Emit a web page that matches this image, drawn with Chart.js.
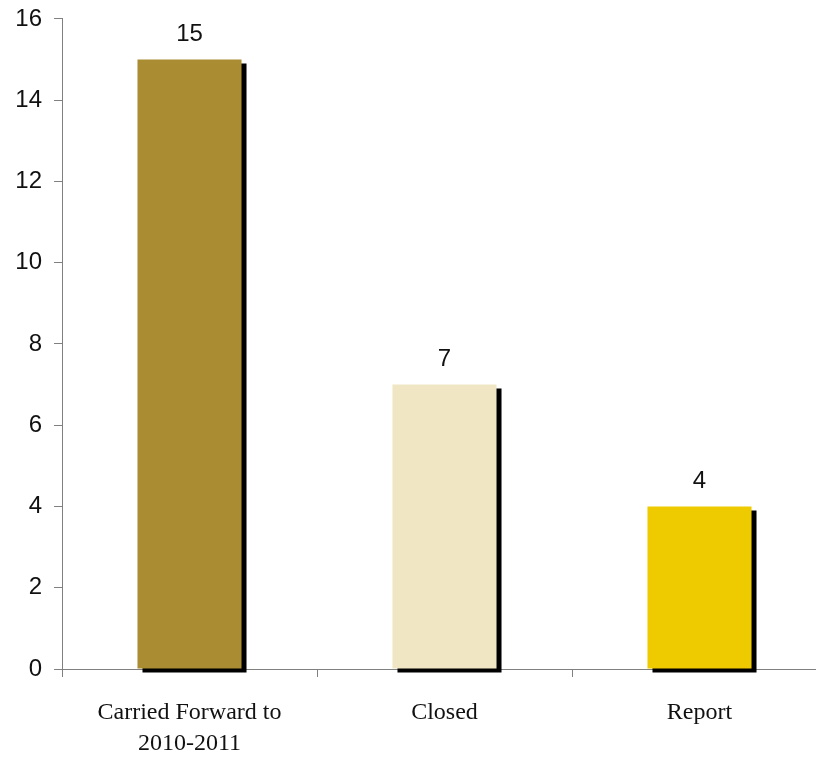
<!DOCTYPE html>
<html>
<head>
<meta charset="utf-8">
<script src="https://cdn.jsdelivr.net/npm/chart.js@4"></script>
<style>
    html, body { margin: 0; padding: 0; background: #fff; overflow: hidden; }
    #wrap { width: 816px; height: 759px; overflow: hidden; }
    #wrap div { width: 840px; height: 759px; }
</style>
</head>
<body>
<div id="wrap"><div><canvas id="chart"></canvas></div></div>
<script>
    const categories = [['Carried Forward to', '2010-2011'], 'Closed', 'Report']
    const counts = [15, 7, 4]
    const barColors = ['#AA8C32', '#F0E6C3', '#EECB00']
    const yTicks = [0, 2, 4, 6, 8, 10, 12, 14, 16]

    const axisGray = '#808080'

    // black drop shadow behind every bar
    const barShadow = {
        id: 'barShadow',
        beforeDatasetDraw(chart) {
            const ctx = chart.ctx
            ctx.save()
            ctx.shadowColor = '#000'
            ctx.shadowBlur = 0
            ctx.shadowOffsetX = 5
            ctx.shadowOffsetY = 4
        },
        afterDatasetDraw(chart) {
            chart.ctx.restore()
        }
    }

    // value printed above each bar
    const valueLabels = {
        id: 'valueLabels',
        afterDatasetsDraw(chart) {
            const ctx = chart.ctx
            const meta = chart.getDatasetMeta(0)
            ctx.save()
            ctx.font = '24px "Liberation Sans", Arial, sans-serif'
            ctx.fillStyle = '#111'
            ctx.textAlign = 'center'
            ctx.textBaseline = 'middle'
            meta.data.forEach(function(bar, i){
                ctx.fillText(String(counts[i]), bar.x, bar.y - 25)
            })
            ctx.restore()
        }
    }

    const ctx = document.getElementById('chart').getContext('2d')
    const myChart = new Chart(ctx, {
        type: 'bar',
        data: {
            labels: categories,
            datasets: [{
                data: counts,
                backgroundColor: barColors,
                borderWidth: 0,
                categoryPercentage: 1,
                barPercentage: 0.408,
                clip: false
            }]
        },
        options: {
            responsive: true,
            maintainAspectRatio: false,
            animation: false,
            layout: {
                padding: { top: 12, left: 15, right: 13, bottom: 0 }
            },
            plugins: {
                legend: { display: false },
                tooltip: { enabled: false }
            },
            scales: {
                x: {
                    offset: true,
                    grid: {
                        offset: true,
                        drawOnChartArea: false,
                        tickLength: 8,
                        tickColor: axisGray
                    },
                    border: { color: axisGray, width: 1 },
                    ticks: {
                        color: '#111',
                        padding: 20,
                        maxRotation: 0,
                        font: { family: '"Liberation Serif", serif', size: 24, lineHeight: 1.31 }
                    },
                    afterFit(scale) { scale.height = 90 }
                },
                y: {
                    min: 0,
                    max: 16,
                    afterBuildTicks(scale) {
                        scale.ticks = yTicks.map(v => ({ value: v }))
                    },
                    grid: {
                        drawOnChartArea: false,
                        tickLength: 8,
                        tickColor: axisGray
                    },
                    border: { color: axisGray, width: 1 },
                    ticks: {
                        color: '#111',
                        padding: 12,
                        // single-line labels: small lineHeight only trims the top overhang
                        font: { family: '"Liberation Sans", Arial, sans-serif', size: 24, lineHeight: 0.58 }
                    },
                    afterFit(scale) { scale.width = 47 }
                }
            }
        },
        plugins: [barShadow, valueLabels]
    })
</script>
</body>
</html>
